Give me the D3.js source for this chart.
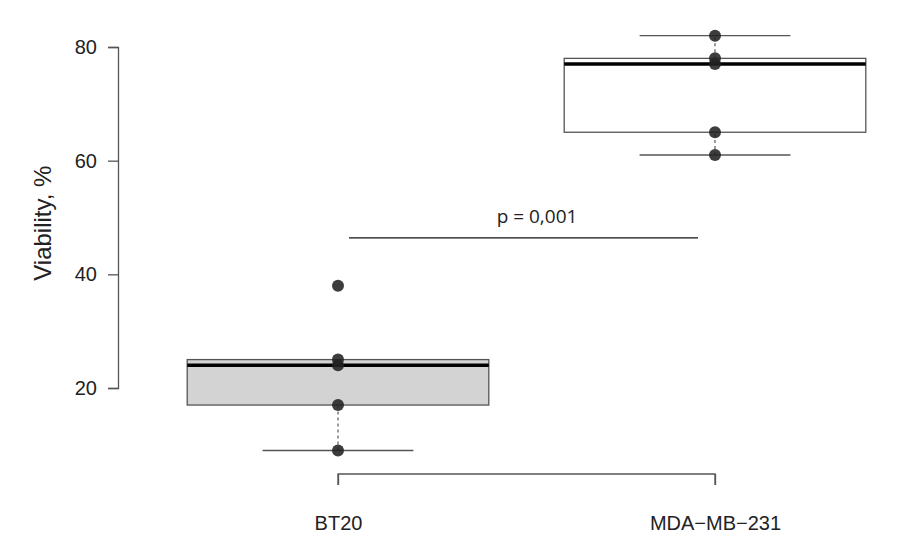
<!DOCTYPE html>
<html>
<head>
<meta charset="utf-8">
<script src="https://cdn.jsdelivr.net/npm/d3@7"></script>
<style>
  body { margin: 0; background: #fff; }
  text { font-family: "Liberation Sans", Arial, sans-serif; fill: #222; }
</style>
</head>
<body>
<div id="chart"></div>
<script>
// groups and raw points
var groups = ["BT20", "MDA\u2212MB\u2212231"];
var pointsBT20 = [38, 25, 24, 17, 9];
var pointsMDA = [82, 78, 77, 65, 61];
// box stats: [lowWhisker, q1, median, q3, highWhisker]
var statsBT20 = [9, 17, 24, 25, 25];
var statsMDA = [61, 65, 77, 78, 82];
var yTicks = [20, 40, 60, 80];
var pLabel = "p = 0,001";
var pLevel = 46.4;

var width = 917, height = 547;

var svg = d3.select("#chart").append("svg")
  .attr("width", width)
  .attr("height", height);

var x = d3.scaleLinear().domain([1, 2]).range([338, 715]);
var y = d3.scaleLinear().domain([20, 80]).range([388, 47]);

var boxW = (x(2) - x(1)) * 0.8;

var data = [
  { name: groups[0], pts: pointsBT20, s: statsBT20, fill: "#d3d3d3" },
  { name: groups[1], pts: pointsMDA, s: statsMDA, fill: "#fff" }
];

// y axis
var yAxis = svg.append("g")
  .attr("transform", "translate(118,0)")
  .call(d3.axisLeft(y).tickValues(yTicks).tickSize(10).tickPadding(11));
yAxis.select(".domain").attr("stroke", "#555").attr("stroke-width", 1.3);
yAxis.selectAll(".tick line").attr("stroke", "#555").attr("stroke-width", 1.3);
yAxis.selectAll(".tick text").style("font-size", "20px").attr("fill", "#222");

svg.append("text")
  .attr("transform", "translate(51," + y(49) + ") rotate(-90)")
  .attr("text-anchor", "middle")
  .style("font-size", "24px")
  .text("Viability, %");

// x axis (R style: from first to last group)
var xAxis = svg.append("g")
  .attr("transform", "translate(0,474)")
  .call(d3.axisBottom(x).tickValues([1, 2]).tickSize(11).tickPadding(31)
    .tickFormat(function(d) { return groups[d - 1]; }));
xAxis.select(".domain").attr("stroke", "#555").attr("stroke-width", 1.3)
  .attr("d", "M" + x(1) + ",11V0H" + x(2) + "V11");
xAxis.selectAll(".tick line").attr("stroke", "#555").attr("stroke-width", 1.3);
xAxis.selectAll(".tick text").style("font-size", "20px").attr("fill", "#222");

// boxes
var g = svg.selectAll(".box")
  .data(data)
  .enter()
  .append("g")
  .attr("class", "box");

g.each(function(d, i) {
  var el = d3.select(this);
  var cx = x(i + 1);
  // whiskers
  el.append("line")
    .attr("x1", cx).attr("x2", cx)
    .attr("y1", y(d.s[0])).attr("y2", y(d.s[1]))
    .attr("stroke", "#666").attr("stroke-width", 1.3).attr("stroke-dasharray", "3,3");
  el.append("line")
    .attr("x1", cx).attr("x2", cx)
    .attr("y1", y(d.s[3])).attr("y2", y(d.s[4]))
    .attr("stroke", "#666").attr("stroke-width", 1.3).attr("stroke-dasharray", "3,3");
  // caps
  [d.s[0], d.s[4]].forEach(function(v) {
    if (v === d.s[3]) return;
    el.append("line")
      .attr("x1", cx - boxW / 4).attr("x2", cx + boxW / 4)
      .attr("y1", y(v)).attr("y2", y(v))
      .attr("stroke", "#555").attr("stroke-width", 1.3);
  });
  el.append("rect")
    .attr("x", cx - boxW / 2)
    .attr("width", boxW)
    .attr("y", y(d.s[3]))
    .attr("height", y(d.s[1]) - y(d.s[3]))
    .attr("fill", d.fill)
    .attr("stroke", "#555")
    .attr("stroke-width", 1.3);
  el.append("line")
    .attr("x1", cx - boxW / 2).attr("x2", cx + boxW / 2)
    .attr("y1", y(d.s[2])).attr("y2", y(d.s[2]))
    .attr("stroke", "#000").attr("stroke-width", 3.5);
  el.selectAll("circle")
    .data(d.pts)
    .enter()
    .append("circle")
    .attr("cx", cx)
    .attr("cy", function(v) { return y(v); })
    .attr("r", 6)
    .attr("fill", "#222")
    .attr("fill-opacity", 0.88);
});

// significance line
svg.append("line")
  .attr("x1", 349).attr("x2", 698)
  .attr("y1", y(pLevel)).attr("y2", y(pLevel))
  .attr("stroke", "#111").attr("stroke-width", 1.2);

svg.append("text")
  .attr("x", 537)
  .attr("y", y(pLevel) - 15)
  .attr("text-anchor", "middle")
  .style("font-family", "'Open Sans', sans-serif")
  .style("font-size", "19px")
  .attr("fill", "#333")
  .text(pLabel);
</script>
</body>
</html>
